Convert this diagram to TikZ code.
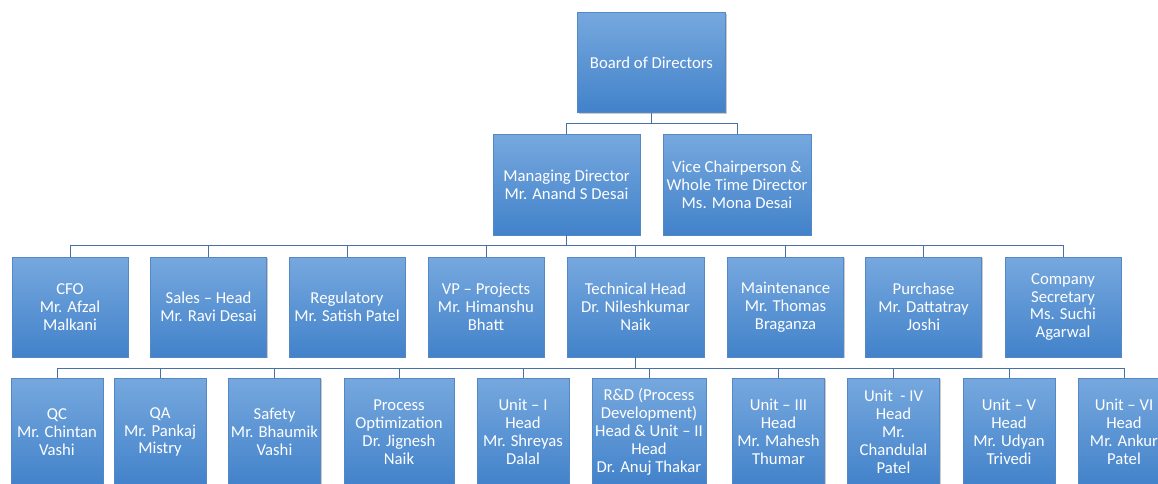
\documentclass[tikz,border=0pt]{standalone}
\usepackage{fontspec}
\setmainfont{Carlito}
\usepackage{xcolor}
\usepackage{tikz}
\usetikzlibrary{positioning,calc,shadows}
\definecolor{boxtop}{RGB}{118,168,222}
\definecolor{boxbot}{RGB}{66,130,202}
\definecolor{boxedge}{RGB}{84,136,196}
\definecolor{linkc}{RGB}{72,112,168}
\tikzset{
  post/.style   = {rectangle, draw=boxedge, line width=0.4pt, top color=boxtop, bottom color=boxbot,
                   text=white, align=center, inner sep=0.5pt,
                   font=\fontsize{9.5}{10.2}\selectfont,
                   drop shadow={opacity=0.35, shadow xshift=0.6pt, shadow yshift=-0.8pt, fill=black!60}},
  link/.style   = {draw=linkc, line width=0.55pt},
}

\begin{document}
\begin{tikzpicture}[x=0.02cm, y=-0.02cm]
\useasboundingbox (0,0) rectangle (1158,483);
\clip (0,0) rectangle (1158,483);

% top two levels
\node[post, minimum width=2.96cm, minimum height=2cm] (board) at (651.5,62.5) {Board of Directors};
\node[post, minimum width=2.94cm, minimum height=2.02cm] (md) at (566.5,184.5)
  {Managing Director\\Mr. Anand S Desai};
\node[post, minimum width=2.96cm, minimum height=2.02cm] (vc) at (737,184.5)
  {Vice Chairperson \&\\Whole Time Director\\Ms. Mona Desai};

% heads
\tikzset{head/.style={post, minimum width=2.32cm, minimum height=2cm}}
\node[head] (cfo)   at (70,307)    {CFO\\Mr. Afzal\\Malkani};
\node[head] (sales) at (208.5,307) {Sales -- Head\\Mr. Ravi Desai};
\node[head] (reg)   at (347,307)   {Regulatory\\Mr. Satish Patel};
\node[head] (vp)    at (486,307)   {VP -- Projects\\Mr. Himanshu\\Bhatt};
\node[head, minimum width=2.74cm] (tech) at (635.5,307) {Technical Head\\Dr. Nileshkumar\\Naik};
\node[head] (maint) at (785.5,307) {Maintenance\\Mr. Thomas\\Braganza};
\node[head] (purch) at (923.5,307) {Purchase\\Mr. Dattatray\\Joshi};
\node[head] (cs)    at (1063,307)  {Company\\Secretary\\Ms. Suchi\\Agarwal};

% units under the technical head
\tikzset{unit/.style={post, minimum width=1.84cm, minimum height=2.16cm}}
\node[unit] (qc)     at (57,432)     {QC\\Mr. Chintan\\Vashi};
\node[unit] (qa)     at (160,432)    {QA\\Mr. Pankaj\\Mistry};
\node[unit] (safety) at (274.5,432)  {Safety\\Mr. Bhaumik\\Vashi};
\node[unit, minimum width=2.2cm] (popt) at (399,432) {Process\\Optimization\\Dr. Jignesh\\Naik};
\node[unit] (u1)     at (523,432)    {Unit -- I\\Head\\Mr. Shreyas\\Dalal};
\node[unit, minimum width=2.28cm] (rnd) at (649,432)
  {R\&D (Process\\Development)\\Head \& Unit -- II\\Head\\Dr. Anuj Thakar};
\node[unit] (u3)     at (778.5,432)  {Unit -- III\\Head\\Mr. Mahesh\\Thumar};
\node[unit] (u4)     at (893.5,432)  {Unit~~- IV\\Head\\Mr.\\Chandulal\\Patel};
\node[unit] (u5)     at (1009,432)   {Unit -- V\\Head\\Mr. Udyan\\Trivedi};
\node[unit] (u6)     at (1124,432)   {Unit -- VI\\Head\\Mr. Ankur\\Patel};

\draw[link] (board.south) -- ++(0,10.5) coordinate (busa) -| (md.north);
\draw[link] (busa) -| (vc.north);

\draw[link] (md.south) -- ++(0,10) coordinate (busb);
\foreach \n in {cfo,sales,reg,vp,tech,maint,purch,cs}
  \draw[link] (busb) -| (\n.north);

\draw[link] (tech.south) -- ++(0,11) coordinate (busc);
\foreach \n in {qc,qa,safety,popt,u1,rnd,u3,u4,u5,u6}
  \draw[link] (busc) -| (\n.north);

\end{tikzpicture}
\end{document}
